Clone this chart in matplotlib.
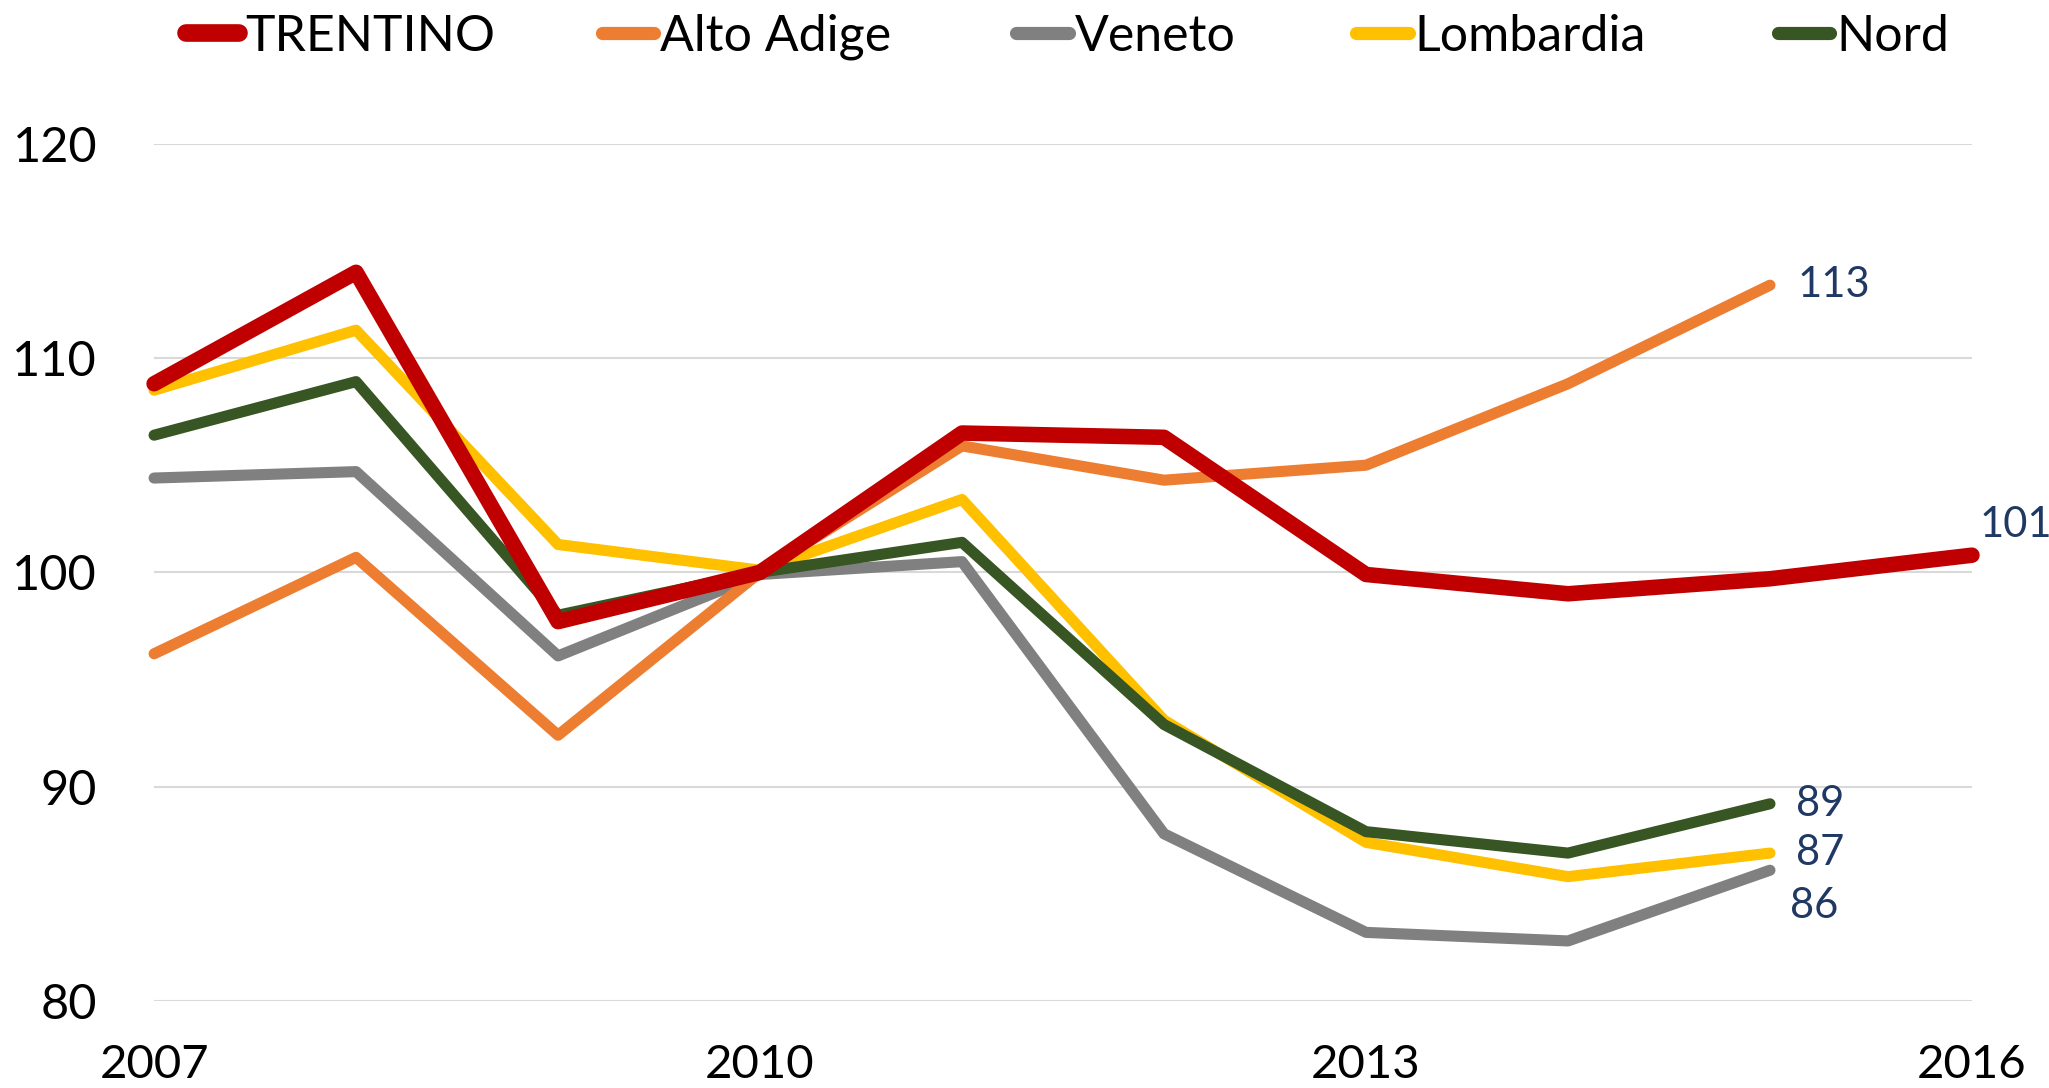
import matplotlib
matplotlib.use("Agg")
import matplotlib.pyplot as plt
from matplotlib.lines import Line2D

years = [2007, 2008, 2009, 2010, 2011, 2012, 2013, 2014, 2015, 2016]
trentino = [108.8, 114.0, 97.7, 100.0, 106.5, 106.3, 99.9, 99.0, 99.7, 100.8]
alto_adige = [96.2, 100.7, 92.4, 100.0, 105.9, 104.3, 105.0, 108.8, 113.4]
veneto = [104.4, 104.7, 96.1, 99.9, 100.5, 87.8, 83.2, 82.8, 86.1]
lombardia = [108.5, 111.3, 101.3, 100.1, 103.4, 93.1, 87.4, 85.8, 86.9]
nord = [106.4, 108.9, 98.0, 100.0, 101.4, 92.9, 87.9, 86.9, 89.2]

names = ["TRENTINO", "Alto Adige", "Veneto", "Lombardia", "Nord"]
colors = ["#C00000", "#ED7D31", "#808080", "#FFC000", "#375623"]
labels_end = ["101", "113", "86", "87", "89"]

yticks = [80, 90, 100, 110, 120]
xticks = [2007, 2010, 2013, 2016]

plt.rcParams['font.family'] = ['Lato', 'DejaVu Sans']

fig = plt.figure(figsize=(20.49, 10.88), dpi=100)
ax = fig.add_axes([0.0752, 0.0800, 0.8872, 0.7879])

series = [trentino, alto_adige, veneto, lombardia, nord]
widths = [11.2, 8.0, 8.0, 8.0, 8.0]
zorders = {2: 3, 1: 4, 3: 5, 4: 6, 0: 7}
handles = []
for i, (name, vals, c, w) in enumerate(zip(names, series, colors, widths)):
    ax.plot(years[:len(vals)], vals, color=c, lw=w, solid_capstyle='round',
            solid_joinstyle='round', zorder=zorders[i], clip_on=False)
    handles.append(Line2D([0], [0], color=c, lw=w + 1.5, solid_capstyle='round'))

# end labels
lab_color = "#203864"
offsets = {0: (8, 30, 'left', 'center'), 1: (28, 0, 'left', 'center'),
           2: (20, -36, 'left', 'center'), 3: (26, 0, 'left', 'center'),
           4: (26, 0, 'left', 'center')}
for i, vals in enumerate(series):
    dx, dy, ha, va = offsets[i]
    ax.annotate(labels_end[i], (years[len(vals) - 1], vals[-1]),
                xytext=(dx * 0.72, dy * 0.72), textcoords='offset points',
                ha=ha, va=va, fontsize=30, color=lab_color, zorder=10,
                annotation_clip=False)

ax.set_xlim(2007, 2016)
ax.set_ylim(80, 120)
ax.set_yticks(yticks)
ax.set_xticks(xticks)
ax.set_yticklabels([str(v) for v in yticks], fontsize=35)
ax.set_xticklabels([str(v) for v in xticks], fontsize=34)
ax.tick_params(axis='both', length=0)
ax.tick_params(axis='y', pad=41)
ax.tick_params(axis='x', pad=31)
ax.grid(axis='y', color='#D9D9D9', lw=1.5, zorder=0)
ax.set_axisbelow(True)
for s in ax.spines.values():
    s.set_visible(False)

# legend entries placed in figure fraction (left edge of each handle)
leg_x = [0.0910, 0.2938, 0.4960, 0.6618, 0.8677]
for x0, h, name in zip(leg_x, handles, names):
    fig.legend([h], [name], loc='center left', bbox_to_anchor=(x0, 0.966),
               frameon=False, fontsize=36, handlelength=1.05, handletextpad=0.12,
               borderaxespad=0, borderpad=0)

fig.savefig("out.png", dpi=100)
